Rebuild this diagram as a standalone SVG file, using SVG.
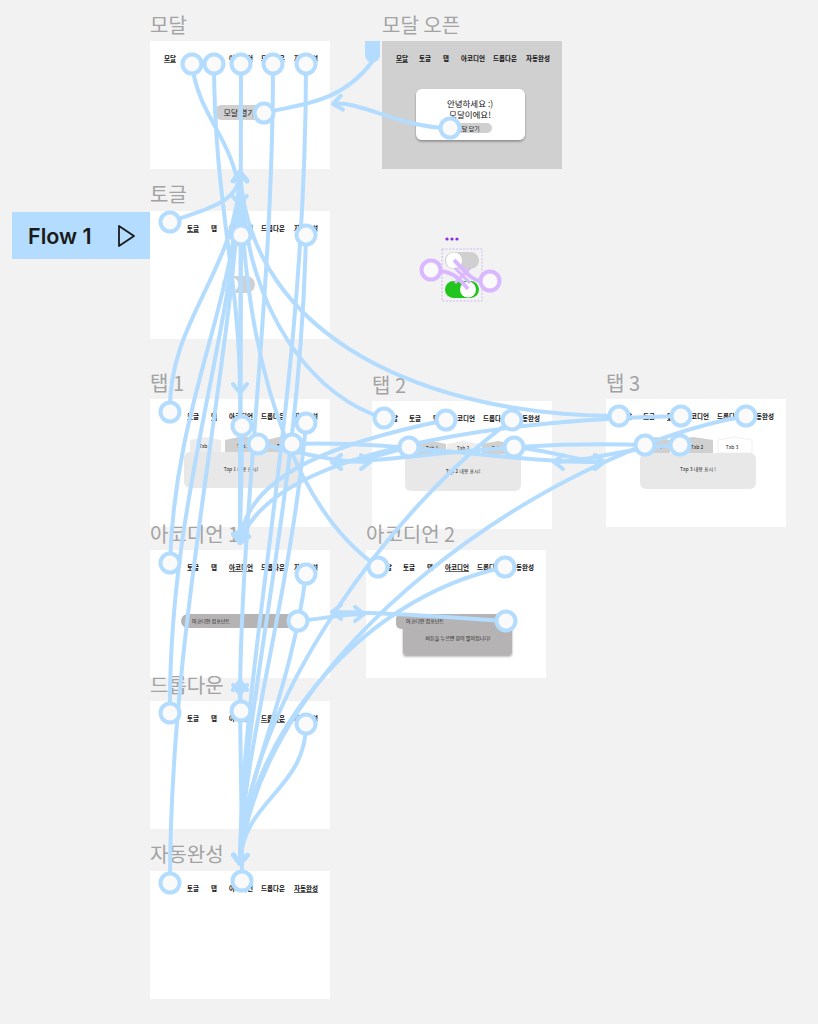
<svg xmlns="http://www.w3.org/2000/svg" width="818" height="1024" viewBox="0 0 818 1024">
<style>
.lbl{font-family:"Noto Sans CJK KR","Noto Sans",sans-serif;font-size:20px;fill:#a3a3a3}
.nav{font-family:"Noto Sans CJK KR","Noto Sans",sans-serif;font-size:6.5px;font-weight:bold;fill:#111;text-anchor:middle}
.small{font-family:"Noto Sans CJK KR","Noto Sans",sans-serif;font-size:5px;fill:#222;text-anchor:middle}
.frame{fill:#ffffff}
.con{fill:none;stroke:#b3dcff;stroke-width:4;stroke-linecap:round;marker-end:url(#arr)}
.conn{fill:none;stroke:#b3dcff;stroke-width:4;stroke-linecap:round}
.hot{fill:#fafafa;stroke:#b3dcff;stroke-width:4}
.tab{fill:#d0d0d0}
.tabon{fill:#ececec}
.content{fill:#e8e8e8}
</style>
<defs>
<marker id="arr" markerUnits="userSpaceOnUse" markerWidth="20" markerHeight="20" viewBox="-12 -10 14 20" refX="0" refY="0" orient="auto">
<path d="M-9,-7 L0,0 L-9,7" fill="none" stroke="#b3dcff" stroke-width="4" stroke-linecap="round" stroke-linejoin="round"/>
</marker>
<filter id="sh" x="-20%" y="-20%" width="140%" height="150%"><feDropShadow dx="0" dy="1.5" stdDeviation="1" flood-color="#000" flood-opacity="0.35"/></filter>
</defs>
<rect width="818" height="1024" fill="#f2f2f2"/>

<g id="flow1">
<rect x="12" y="212" width="138" height="47" fill="#b3dcff"/>
<text x="28" y="244" font-family="Inter,'Noto Sans',sans-serif" font-size="21.5" font-weight="600" fill="#1a1a1a">Flow 1</text>
<path d="M119,226 L134,236 L119,246 Z" fill="none" stroke="#1a1a1a" stroke-width="1.8" stroke-linejoin="round"/>
</g>

<g id="frame-modal">
<text class="lbl" x="150" y="33">모달</text>
<rect class="frame" x="150" y="41" width="180" height="128"/>
<text class="nav" x="170" y="61" text-decoration="underline">모달</text>
<text class="nav" x="193" y="61">토글</text>
<text class="nav" x="214" y="61">탭</text>
<text class="nav" x="241" y="61">아코디언</text>
<text class="nav" x="273" y="61">드롭다운</text>
<text class="nav" x="306" y="61">자동완성</text>
<rect x="216" y="105" width="46" height="15" rx="5" fill="#d0d0d0"/>
<text x="239" y="116" font-family="'Noto Sans CJK KR',sans-serif" font-size="8" fill="#222" text-anchor="middle">모달 열기</text>
</g>

<g id="frame-modal-open">
<text class="lbl" x="382" y="33">모달 오픈</text>
<rect x="382" y="41" width="180" height="128" fill="#d0d0d0"/>
<text class="nav" x="402" y="61" text-decoration="underline">모달</text>
<text class="nav" x="425" y="61">토글</text>
<text class="nav" x="446" y="61">탭</text>
<text class="nav" x="473" y="61">아코디언</text>
<text class="nav" x="505" y="61">드롭다운</text>
<text class="nav" x="538" y="61">자동완성</text>
<rect x="416" y="89" width="109" height="51" rx="6" fill="#fff" filter="url(#sh)"/>
<text x="470" y="107" font-family="'Noto Sans CJK KR',sans-serif" font-size="8.5" fill="#111" text-anchor="middle">안녕하세요 :)</text>
<text x="470" y="118" font-family="'Noto Sans CJK KR',sans-serif" font-size="8.5" fill="#111" text-anchor="middle">모달이에요!</text>
<rect x="444" y="123" width="48" height="10" rx="5" fill="#d0d0d0"/>
<text x="468" y="130.5" font-family="'Noto Sans CJK KR',sans-serif" font-size="6" fill="#222" text-anchor="middle">모달 닫기</text>
</g>

<g id="frame-toggle">
<text class="lbl" x="150" y="202">토글</text>
<rect class="frame" x="150" y="211" width="180" height="128"/>
<text class="nav" x="193" y="231" text-decoration="underline">토글</text>
<text class="nav" x="214" y="231">탭</text>
<text class="nav" x="241" y="231">아코디언</text>
<text class="nav" x="273" y="231">드롭다운</text>
<text class="nav" x="306" y="231">자동완성</text>
<rect x="222" y="276" width="33" height="17" rx="8.5" fill="#d0d0d0"/>
<circle cx="231" cy="284.5" r="7.5" fill="#fff" stroke="#ddd" stroke-width="0.8"/>
</g>

<g id="toggle-component">
<circle cx="447" cy="239" r="1.6" fill="#8a2be2"/>
<circle cx="452" cy="239" r="1.6" fill="#8a2be2"/>
<circle cx="457" cy="239" r="1.6" fill="#8a2be2"/>
<rect x="442" y="249" width="40" height="52" fill="none" stroke="#c9a8f5" stroke-width="0.8" stroke-dasharray="2,1.5"/>
<rect x="445" y="252" width="34" height="17" rx="8.5" fill="#d0d0d0"/>
<circle cx="454" cy="260.5" r="8" fill="#fff"/>
<rect x="445" y="281" width="34" height="17" rx="8.5" fill="#22c41e"/>
<circle cx="468" cy="289.5" r="8" fill="#fff"/>
<path d="M440,271 C455,272 462,282 468,289" fill="none" stroke="#d9b8ff" stroke-width="4"/>
<path d="M480,281 C470,279 462,268 454,260" fill="none" stroke="#d9b8ff" stroke-width="4"/>
<path d="M455,268 L470,283 M470,268 L455,283" fill="none" stroke="#d9b8ff" stroke-width="3"/>
<circle cx="431" cy="270" r="9.5" fill="#fafafa" stroke="#d9b8ff" stroke-width="4"/>
<circle cx="490" cy="281" r="9.5" fill="#fafafa" stroke="#d9b8ff" stroke-width="4"/>
</g>

<g id="frame-tab1">
<text class="lbl" x="150" y="391">탭 1</text>
<rect class="frame" x="150" y="399" width="180" height="128"/>
<text class="nav" x="193" y="419">토글</text>
<text class="nav" x="214" y="419" text-decoration="underline">탭</text>
<text class="nav" x="241" y="419">아코디언</text>
<text class="nav" x="273" y="419">드롭다운</text>
<text class="nav" x="306" y="419">자동완성</text>
<path class="tabon" d="M190,440 L205,437 L221,440 L221,453 L190,453 Z"/>
<path class="tab" d="M225,440 L243,436 L262,440 L262,453 L225,453 Z"/>
<path class="tab" d="M266,440 L283,436 L300,440 L300,453 L266,453 Z"/>
<rect class="content" x="184" y="452" width="116" height="36" rx="6"/>
<text class="small" x="205" y="448">Tab 1</text>
<text class="small" x="243" y="448">Tab 2</text>
<text class="small" x="283" y="448">Tab 3</text>
<text class="small" x="241" y="471">Tap 1 내용 표시!</text>
</g>

<g id="frame-tab2">
<text class="lbl" x="372" y="393">탭 2</text>
<rect class="frame" x="372" y="401" width="180" height="128"/>
<text class="nav" x="392" y="421">모달</text>
<text class="nav" x="415" y="421">토글</text>
<text class="nav" x="436" y="421" text-decoration="underline">탭</text>
<text class="nav" x="463" y="421">아코디언</text>
<text class="nav" x="495" y="421">드롭다운</text>
<text class="nav" x="528" y="421">자동완성</text>
<path class="tab" d="M418,444 L432,441 L446,444 L446,454 L418,454 Z"/>
<path class="tabon" d="M447,444 L463,441 L480,444 L480,454 L447,454 Z"/>
<path class="tab" d="M482,444 L498,441 L515,444 L515,454 L482,454 Z"/>
<rect class="content" x="405" y="454" width="116" height="37" rx="6"/>
<text class="small" x="432" y="450">Tab 1</text>
<text class="small" x="463" y="450">Tab 2</text>
<text class="small" x="498" y="450">Tab 3</text>
<text class="small" x="463" y="473">Tap 2 내용 표시!</text>
</g>

<g id="frame-tab3">
<text class="lbl" x="606" y="391">탭 3</text>
<rect class="frame" x="606" y="399" width="180" height="128"/>
<text class="nav" x="626" y="419">모달</text>
<text class="nav" x="649" y="419">토글</text>
<text class="nav" x="670" y="419" text-decoration="underline">탭</text>
<text class="nav" x="697" y="419">아코디언</text>
<text class="nav" x="729" y="419">드롭다운</text>
<text class="nav" x="762" y="419">자동완성</text>
<path class="tab" d="M643,440 L656,437 L670,440 L670,453 L643,453 Z"/>
<path class="tab" d="M673,440 L693,437 L713,440 L713,453 L673,453 Z"/>
<path fill="#fff" stroke="#e0e0e0" stroke-width="0.5" d="M718,440 L735,437 L752,440 L752,453 L718,453 Z"/>
<rect class="content" x="640" y="453" width="116" height="36" rx="6"/>
<text class="small" x="656" y="449">Tab 1</text>
<text class="small" x="697" y="449">Tab 2</text>
<text class="small" x="732" y="449">Tab 3</text>
<text class="small" x="698" y="471">Tap 3 내용 표시 !</text>
</g>

<g id="frame-accordion1">
<text class="lbl" x="150" y="542">아코디언 1</text>
<rect class="frame" x="150" y="550" width="180" height="128"/>
<text class="nav" x="193" y="570">토글</text>
<text class="nav" x="214" y="570">탭</text>
<text class="nav" x="241" y="570" text-decoration="underline">아코디언</text>
<text class="nav" x="273" y="570">드롭다운</text>
<text class="nav" x="306" y="570">자동완성</text>
<rect x="181" y="614" width="120" height="14" rx="7" fill="#b5b3b3"/>
<text class="small" x="211" y="623">아코디언 컴포넌트</text>
</g>

<g id="frame-accordion2">
<text class="lbl" x="366" y="542">아코디언 2</text>
<rect class="frame" x="366" y="550" width="180" height="128"/>
<text class="nav" x="386" y="570">모달</text>
<text class="nav" x="409" y="570">토글</text>
<text class="nav" x="430" y="570">탭</text>
<text class="nav" x="457" y="570" text-decoration="underline">아코디언</text>
<text class="nav" x="489" y="570">드롭다운</text>
<text class="nav" x="522" y="570">자동완성</text>
<rect x="403" y="625" width="109" height="30" rx="3" fill="#b5b3b3" filter="url(#sh)"/>
<rect x="396" y="614" width="118" height="15" rx="5" fill="#b5b3b3"/>
<text class="small" x="425" y="623">아코디언 컴포넌트</text>
<text class="small" x="458" y="640">버튼을 누르면 창이 펼쳐집니다!</text>
</g>

<g id="frame-dropdown">
<text class="lbl" x="150" y="693">드롭다운</text>
<rect class="frame" x="150" y="701" width="180" height="128"/>
<text class="nav" x="193" y="721">토글</text>
<text class="nav" x="214" y="721">탭</text>
<text class="nav" x="241" y="721">아코디언</text>
<text class="nav" x="273" y="721" text-decoration="underline">드롭다운</text>
<text class="nav" x="306" y="721">자동완성</text>
</g>

<g id="frame-autocomplete">
<text class="lbl" x="150" y="862">자동완성</text>
<rect class="frame" x="150" y="871" width="180" height="128"/>
<text class="nav" x="193" y="891">토글</text>
<text class="nav" x="214" y="891">탭</text>
<text class="nav" x="241" y="891">아코디언</text>
<text class="nav" x="273" y="891">드롭다운</text>
<text class="nav" x="306" y="891" text-decoration="underline">자동완성</text>
</g>

<g id="connectors">
<!-- to 모달 bottom -->
<path class="con" d="M170,222 C200,210 240,205 240,172"/>
<path class="con" d="M170,412 C168,320 238,270 240,172"/>
<path class="con" d="M384,418 C320,400 245,320 240,172"/>
<path class="con" d="M619,416 C430,416 250,340 240,172"/>
<path class="con" d="M170,563 C175,400 238,300 240,172"/>
<path class="con" d="M378,567 C310,520 245,400 240,172"/>
<path class="con" d="M170,713 C168,500 236,330 240,172"/>
<path class="con" d="M170,883 C170,620 234,360 240,172"/>
<!-- 모달 links -->
<path class="con" d="M192,63 C198,120 238,140 240,205"/>
<path class="con" d="M214,63 C214,200 240,280 240,393"/>
<path class="con" d="M241,63 C241,250 240,400 240,543"/>
<path class="con" d="M273,63 C273,300 242,500 240,694"/>
<path class="con" d="M306,63 C306,400 242,650 240,864"/>
<path class="conn" d="M264,113 C300,104 340,104 372,62"/>
<path class="con" d="M450,128 C400,128 360,100 333,104"/>
<!-- toggle -->
<path class="con" d="M241,235 C241,350 240,450 240,543"/>
<path class="con" d="M306,235 C300,500 242,700 240,864"/>
<!-- tab 1 -->
<path class="con" d="M242,426 C242,480 240,510 240,543"/>
<path class="con" d="M306,423 C290,600 242,750 240,864"/>
<path class="con" d="M258,444 C300,452 330,462 370,462"/>
<path class="con" d="M292,444 C400,440 500,462 604,462"/>
<!-- tab 2 -->
<path class="con" d="M446,420 C350,440 245,470 240,543"/>
<path class="con" d="M512,420 C400,500 245,700 240,864"/>
<path class="con" d="M409,447 C380,455 360,462 332,462"/>
<path class="con" d="M514,447 C560,452 580,462 604,462"/>
<!-- tab 3 -->
<path class="con" d="M681,416 C500,420 270,450 240,543"/>
<path class="con" d="M746,416 C550,450 260,650 240,864"/>
<path class="con" d="M645,445 C500,440 400,462 332,462"/>
<path class="con" d="M680,445 C620,448 590,462 554,462"/>
<!-- accordion 1 -->
<path class="con" d="M306,574 C290,700 242,780 240,864"/>
<path class="con" d="M298,621 C330,618 340,614 364,614"/>
<!-- accordion 2 -->
<path class="con" d="M505,567 C350,600 245,750 240,864"/>
<path class="con" d="M506,621 C420,615 370,612 332,612"/>
<!-- dropdown -->
<path class="con" d="M241,711 C241,700 240,695 240,681"/>
<path class="con" d="M306,724 C306,790 242,800 240,864"/>
<!-- autocomplete -->
<path class="con" d="M242,881 C242,800 240,750 240,681"/>
<!-- connection end handle at 모달 오픈 -->
<path d="M365,41 L380,41 L380,55 A7.5,7.5 0 0 1 365,55 Z" fill="#b3dcff"/>
<!-- hotspots -->
<circle class="hot" cx="192" cy="64" r="9.5"/>
<circle class="hot" cx="214" cy="64" r="9.5"/>
<circle class="hot" cx="241" cy="64" r="9.5"/>
<circle class="hot" cx="273" cy="64" r="9.5"/>
<circle class="hot" cx="306" cy="64" r="9.5"/>
<circle class="hot" cx="264" cy="113" r="9.5"/>
<circle class="hot" cx="450" cy="128" r="9.5"/>
<circle class="hot" cx="170" cy="222" r="9.5"/>
<circle class="hot" cx="241" cy="235" r="9.5"/>
<circle class="hot" cx="306" cy="235" r="9.5"/>
<circle class="hot" cx="170" cy="412" r="9.5"/>
<circle class="hot" cx="242" cy="426" r="9.5"/>
<circle class="hot" cx="306" cy="423" r="9.5"/>
<circle class="hot" cx="258" cy="444" r="9.5"/>
<circle class="hot" cx="292" cy="444" r="9.5"/>
<circle class="hot" cx="384" cy="418" r="9.5"/>
<circle class="hot" cx="446" cy="420" r="9.5"/>
<circle class="hot" cx="512" cy="420" r="9.5"/>
<circle class="hot" cx="409" cy="447" r="9.5"/>
<circle class="hot" cx="514" cy="447" r="9.5"/>
<circle class="hot" cx="619" cy="416" r="9.5"/>
<circle class="hot" cx="681" cy="416" r="9.5"/>
<circle class="hot" cx="746" cy="416" r="9.5"/>
<circle class="hot" cx="645" cy="445" r="9.5"/>
<circle class="hot" cx="680" cy="445" r="9.5"/>
<circle class="hot" cx="170" cy="563" r="9.5"/>
<circle class="hot" cx="306" cy="574" r="9.5"/>
<circle class="hot" cx="298" cy="621" r="9.5"/>
<circle class="hot" cx="378" cy="567" r="9.5"/>
<circle class="hot" cx="505" cy="567" r="9.5"/>
<circle class="hot" cx="506" cy="621" r="9.5"/>
<circle class="hot" cx="170" cy="713" r="9.5"/>
<circle class="hot" cx="241" cy="711" r="9.5"/>
<circle class="hot" cx="306" cy="724" r="9.5"/>
<circle class="hot" cx="170" cy="883" r="9.5"/>
<circle class="hot" cx="242" cy="881" r="9.5"/>
</g>
</svg>
